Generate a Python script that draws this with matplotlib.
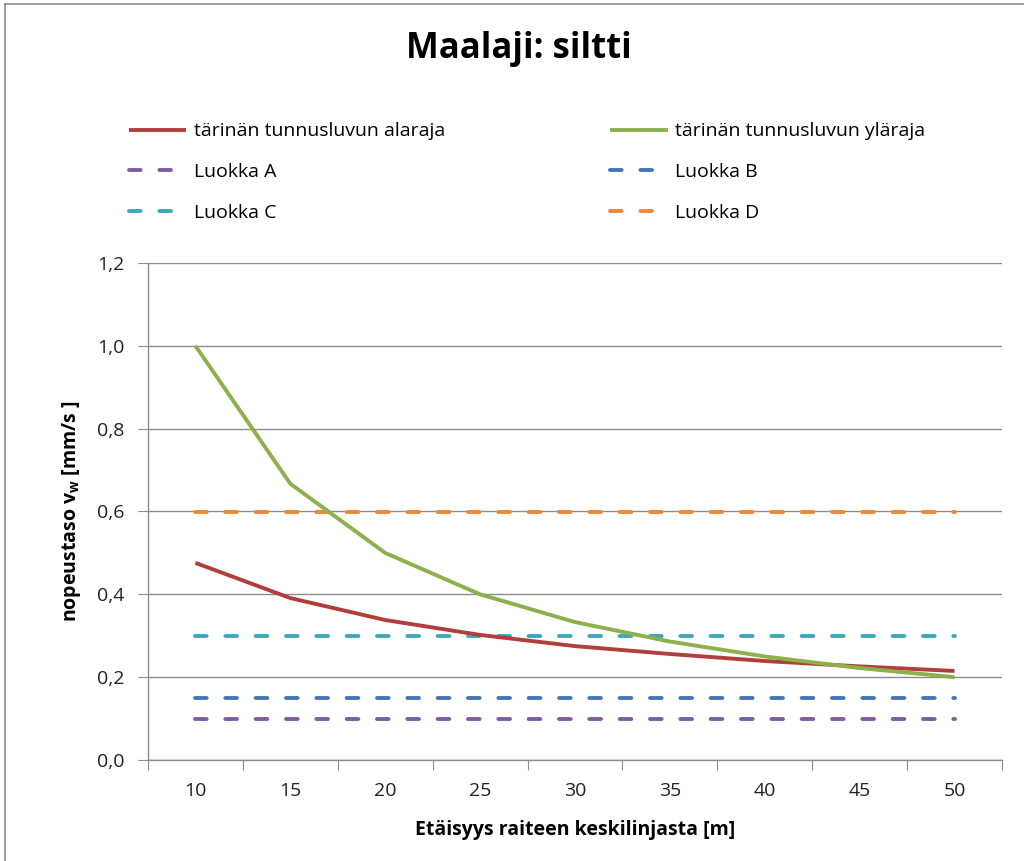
import numpy as np
import matplotlib
matplotlib.use("Agg")
import matplotlib.pyplot as plt
from matplotlib.lines import Line2D
from matplotlib.ticker import FuncFormatter, FixedLocator

plt.rcParams['font.family'] = ['Open Sans', 'DejaVu Sans']
plt.rcParams['mathtext.default'] = 'regular'

# data
distances = [10, 15, 20, 25, 30, 35, 40, 45, 50]
lower_limit = [0.476, 0.391, 0.338, 0.302, 0.275, 0.256, 0.239, 0.226, 0.215]
upper_limit = [1.0, 0.667, 0.5, 0.4, 0.333, 0.286, 0.25, 0.222, 0.2]
class_levels = {"Luokka A": 0.1, "Luokka B": 0.15, "Luokka C": 0.3, "Luokka D": 0.6}

title = "Maalaji: siltti"
xlabel = "Etäisyys raiteen keskilinjasta [m]"
ylabel = "nopeustaso v$_w$ [mm/s ]"

red = "#B03F3C"
green = "#8CB14C"
class_colors = {"Luokka A": "#7D5EA3", "Luokka B": "#4477B8",
                "Luokka C": "#3FA6C0", "Luokka D": "#EC8838"}

fig = plt.figure(figsize=(10.24, 8.61), dpi=100)
ax = fig.add_axes([148/1024, 1-760/861, (1002-148)/1024, (760-263)/861])

xs = np.arange(len(distances))
dash = (3.0, 4.8)

h_low, = ax.plot(xs, lower_limit, color=red, lw=2.8, solid_capstyle='butt', zorder=3)
h_up, = ax.plot(xs, upper_limit, color=green, lw=2.8, solid_capstyle='butt', zorder=3)
h_cls = {}
for name, level in class_levels.items():
    h, = ax.plot(xs, [level]*len(xs), color=class_colors[name], lw=2.8,
                 dashes=dash, dash_capstyle='round')
    h_cls[name] = h

ax.set_xlim(-0.5, len(xs) - 0.5)
ax.set_ylim(0, 1.2)
ax.set_yticks(np.arange(0, 1.21, 0.2))
ax.yaxis.set_major_formatter(FuncFormatter(lambda v, p: ("%.1f" % v).replace(".", ",")))
ax.yaxis.grid(True, color="#8C8C8C", lw=1)
ax.set_axisbelow(True)

ax.xaxis.set_major_locator(FixedLocator(np.arange(-0.5, len(xs), 1.0)))
ax.xaxis.set_minor_locator(FixedLocator(xs))
ax.set_xticklabels([])
ax.set_xticklabels([str(d) for d in distances], minor=True)
ax.tick_params(axis='x', which='major', length=7, color="#8C8C8C", direction='out')
ax.tick_params(axis='x', which='minor', length=0, pad=16, labelsize=14, labelcolor="#222222")
ax.tick_params(axis='y', length=7, color="#8C8C8C", direction='out', pad=10,
               labelsize=14, labelcolor="#222222")

for s in ["top", "right"]:
    ax.spines[s].set_visible(False)
for s in ["left", "bottom"]:
    ax.spines[s].set_color("#8C8C8C")
    ax.spines[s].set_linewidth(1)

ax.set_xlabel(xlabel, fontsize=14, fontweight='bold', labelpad=14)
ax.set_ylabel(ylabel, fontsize=14, fontweight='bold', labelpad=10)

fig.text(0.507, 1-49/861, title, fontsize=25, fontweight='bold', ha='center', va='center')

handles = [h_low, h_cls["Luokka A"], h_cls["Luokka C"], h_up, h_cls["Luokka B"], h_cls["Luokka D"]]
labels = ["tärinän tunnusluvun alaraja", "Luokka A", "Luokka C",
          "tärinän tunnusluvun yläraja", "Luokka B", "Luokka D"]
fig.legend(handles, labels, loc='upper left', bbox_to_anchor=(111/1024, 1-105/861),
           ncol=2, frameon=False, fontsize=14, handlelength=2.95, handletextpad=0.4,
           columnspacing=8.5, labelspacing=1.16)

# outer chart border (left and top edges visible)
fig.add_artist(Line2D([5/1024, 5/1024], [0, 1-4/861], color="#8C8C8C", lw=1.2))
fig.add_artist(Line2D([5/1024, 1], [1-4/861, 1-4/861], color="#8C8C8C", lw=1.2))

fig.savefig("out.png", dpi=100)
